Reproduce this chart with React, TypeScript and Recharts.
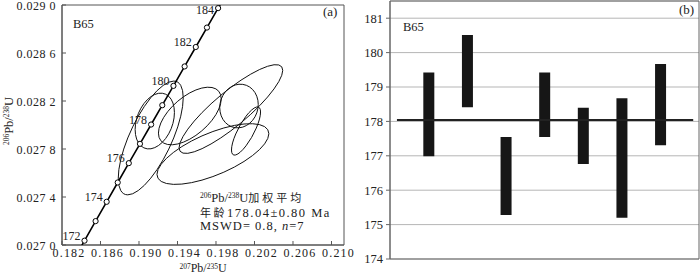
import React from "react";
import {
  Bar,
  CartesianGrid,
  ComposedChart,
  ReferenceArea,
  ReferenceLine,
  Scatter,
  XAxis,
  YAxis,
} from "recharts";

// (a) concordia curve (age in Ma, 207Pb/235U, 206Pb/238U)
const concordiaAge = [171.6, 172, 173, 174, 175, 176, 177, 178, 179, 180, 181, 182, 183, 184, 184.3];
const concordiaX = [0.18388, 0.18434, 0.18549, 0.18664, 0.18779, 0.18894, 0.1901, 0.19126, 0.19242, 0.19358, 0.19474, 0.1959, 0.19706, 0.19822, 0.19857];
const concordiaY = [0.026971, 0.027036, 0.027199, 0.02736, 0.027521, 0.027682, 0.027843, 0.028004, 0.028165, 0.028326, 0.028488, 0.02865, 0.028812, 0.028974, 0.029022];
const labelledAges = [172, 174, 176, 178, 180, 182, 184];

// (a) analysis spots: ratio centres, ellipse half extents, error correlation
const spotX = [0.19122, 0.19164, 0.19528, 0.19955, 0.20039, 0.20112, 0.19768];
const spotXErr = [0.003375, 0.002042, 0.00326, 0.005386, 0.002, 0.00151, 0.005813];
const spotY = [0.027892, 0.028033, 0.028075, 0.028133, 0.028158, 0.02795, 0.027758];
const spotYErr = [0.000474, 0.0002325, 0.00024, 0.00037, 0.000182, 0.000201, 0.000253];
const spotRho = [0.707, 0.304, 0.595, 0.872, 0.073, 0.789, 0.67];

const ratioXTicks = [0.182, 0.186, 0.19, 0.194, 0.198, 0.202, 0.206, 0.21];
const ratioYTicks = [0.027, 0.0274, 0.0278, 0.0282, 0.0286, 0.029];

// (b) 206Pb/238U ages, error bar bottom / top
const spotNo = [1, 2, 3, 4, 5, 6, 7];
const ageLow = [176.99, 178.41, 175.28, 177.55, 176.76, 175.2, 177.31];
const ageHigh = [179.42, 180.51, 177.55, 179.42, 178.4, 178.67, 179.67];
const meanAge = 178.04;
const ageTicks = [174, 175, 176, 177, 178, 179, 180, 181];

const SERIF = "'Liberation Serif', 'DejaVu Serif', serif";
const CJK = "'Noto Sans CJK SC', sans-serif";
const serifStyle = { fontFamily: SERIF };

const concordiaData = concordiaAge.map((age, i) => ({
  x: concordiaX[i],
  y: concordiaY[i],
  dot: Number.isInteger(age),
  label: labelledAges.includes(age) ? String(age) : "",
}));

const ellipseData = spotX.map((cx, i) => {
  const ey = spotYErr[i];
  const rho = spotRho[i];
  return [
    { x: cx, y: spotY[i] },
    { x: cx + spotXErr[i], y: spotY[i] + rho * ey },
    { x: cx, y: spotY[i] + ey * Math.sqrt(1 - rho * rho) },
  ];
});

const barData = spotNo.map((n, i) => ({ n, range: [ageLow[i], ageHigh[i]] }));

// centre + two conjugate semi-diameters (already in pixels) -> ellipse
const EllipseOutline = (props: any) => {
  const pts = props.points;
  if (!pts || pts.length < 3) return null;
  const [c, a, b] = pts;
  return (
    <ellipse
      cx={0}
      cy={0}
      rx={1}
      ry={1}
      transform={`matrix(${a.x - c.x} ${a.y - c.y} ${b.x - c.x} ${b.y - c.y} ${c.x} ${c.y})`}
      fill="none"
      stroke="#111"
      strokeWidth={1}
      vectorEffect="non-scaling-stroke"
    />
  );
};

const NoMark = () => <g />;

const ConcordiaMark = (props: any) => {
  const { cx, cy, payload } = props;
  if (!payload || !payload.dot) return <g />;
  return (
    <g>
      <circle cx={cx} cy={cy} r={2.6} fill="#fff" stroke="#000" strokeWidth={1} />
      {payload.label && (
        <text x={cx - 4} y={Math.max(cy - 1, 14)} textAnchor="end" style={serifStyle} fontSize={12} fill="#222">
          {payload.label}
        </text>
      )}
    </g>
  );
};

const RatioXTick = (props: any) => {
  const { x, y, payload } = props;
  return (
    <text x={x + 7} y={y + 12} textAnchor="middle" style={serifStyle} fontSize={12} letterSpacing={1.2} fill="#222">
      {payload.value.toFixed(3)}
    </text>
  );
};

const RatioYTick = (props: any) => {
  const { x, y, payload } = props;
  const s = payload.value.toFixed(4);
  return (
    <text x={x} y={y + 4.5} textAnchor="end" style={serifStyle} fontSize={12} letterSpacing={0.5} fill="#222">
      {s.slice(0, 5) + " " + s.slice(5)}
    </text>
  );
};

function ConcordiaPanel() {
  return (
    <ComposedChart width={366} height={275} margin={{ top: 5, right: 22, left: 6, bottom: 0 }}>
      <XAxis
        dataKey="x"
        type="number"
        domain={[0.182, 0.2113]}
        allowDataOverflow
        ticks={ratioXTicks}
        interval={0}
        height={30}
        tickSize={-4}
        tickMargin={4}
        tick={<RatioXTick />}
        stroke="#555"
      />
      <YAxis
        dataKey="y"
        type="number"
        domain={[0.027, 0.029]}
        allowDataOverflow
        ticks={ratioYTicks}
        interval={0}
        width={56}
        tickSize={-4}
        tickMargin={10}
        tick={<RatioYTick />}
        stroke="#555"
      />
      <ReferenceArea x1={0.182} x2={0.2113} y1={0.027} y2={0.029} fill="none" stroke="#555" ifOverflow="visible" />
      {ellipseData.map((pts, i) => (
        <Scatter
          key={i}
          data={pts}
          fill="#111"
          line={<EllipseOutline />}
          lineType="joint"
          shape={<NoMark />}
          isAnimationActive={false}
        />
      ))}
      <Scatter
        data={concordiaData}
        fill="#000"
        line={{ stroke: "#000", strokeWidth: 1.6 }}
        lineType="joint"
        shape={<ConcordiaMark />}
        isAnimationActive={false}
      />
    </ComposedChart>
  );
}

function AgePanel() {
  return (
    <ComposedChart width={350} height={275} data={barData} margin={{ top: 1, right: 1, left: 0, bottom: 16 }}>
      <CartesianGrid vertical={false} stroke="#b5b5b5" />
      <XAxis dataKey="n" type="number" domain={[0, 8]} ticks={spotNo} hide />
      <YAxis
        type="number"
        domain={[174, 181.5]}
        allowDataOverflow
        ticks={ageTicks}
        interval={0}
        width={40}
        tickSize={4}
        tickMargin={3}
        stroke="#666"
        tick={{ style: serifStyle, fontSize: 12.5, fill: "#222" }}
      />
      <ReferenceArea x1={0} x2={8} y1={174} y2={181.5} fill="none" stroke="#666" ifOverflow="visible" />
      <Bar dataKey="range" barSize={11} fill="#161616" isAnimationActive={false} />
      <ReferenceLine
        segment={[
          { x: 0.18, y: meanAge },
          { x: 7.85, y: meanAge },
        ]}
        stroke="#222"
        strokeWidth={2}
        ifOverflow="visible"
      />
    </ComposedChart>
  );
}

function Notes() {
  const sup = { fontSize: 7.5 };
  const cjk = { fontFamily: CJK };
  return (
    <svg
      width={700}
      height={275}
      style={{ position: "absolute", left: 0, top: 0, pointerEvents: "none", fontFamily: SERIF }}
      fill="#222"
    >
      <text x={73} y={28} fontSize={12.5}>B65</text>
      <text x={323} y={16} fontSize={13}>(a)</text>
      <text x={200} y={202} fontSize={12.5}>
        <tspan {...sup} dy={-4}>206</tspan>
        <tspan dy={4}>Pb/</tspan>
        <tspan {...sup} dy={-4}>238</tspan>
        <tspan dy={4}>U</tspan>
        <tspan style={cjk} fontSize={11} letterSpacing={3}>加权平均</tspan>
      </text>
      <text x={200} y={217} fontSize={12.5}>
        <tspan style={cjk} fontSize={11} letterSpacing={2.5}>年龄</tspan>
        <tspan letterSpacing={1.5}>178.04±0.80 Ma</tspan>
      </text>
      <text x={200} y={230} fontSize={12.5} letterSpacing={1}>
        MSWD= 0.8, <tspan fontStyle="italic">n</tspan>=7
      </text>
      <text transform="translate(13,121) rotate(-90)" textAnchor="middle" fontSize={12.5}>
        <tspan {...sup} dy={-4}>206</tspan>
        <tspan dy={4}>Pb/</tspan>
        <tspan {...sup} dy={-4}>238</tspan>
        <tspan dy={4}>U</tspan>
      </text>
      <text x={203} y={272} textAnchor="middle" fontSize={12}>
        <tspan {...sup} dy={-3.5}>207</tspan>
        <tspan dy={3.5}>Pb/</tspan>
        <tspan {...sup} dy={-3.5}>235</tspan>
        <tspan dy={3.5}>U</tspan>
      </text>
      <text x={403} y={31} fontSize={12.5}>B65</text>
      <text x={679} y={14} fontSize={13}>(b)</text>
    </svg>
  );
}

export default function App() {
  return (
    <div style={{ position: "absolute", left: 0, top: 0, width: 700, height: 275, background: "#fff", fontFamily: SERIF }}>
      <div style={{ position: "absolute", left: 0, top: 0 }}>
        <ConcordiaPanel />
      </div>
      <div style={{ position: "absolute", left: 350, top: 0 }}>
        <AgePanel />
      </div>
      <Notes />
    </div>
  );
}
